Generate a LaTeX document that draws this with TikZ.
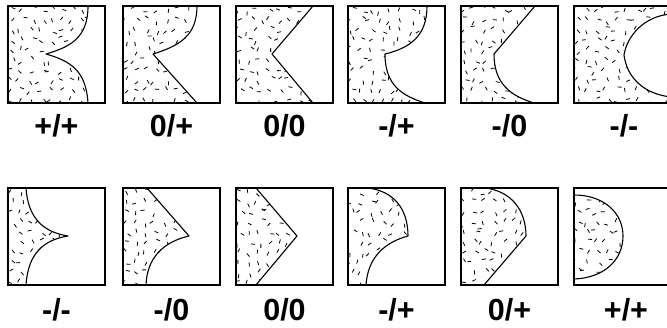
\documentclass[tikz,border=0pt]{standalone}
\usepackage{fontspec}
\newfontfamily\labfont{Liberation Sans}
\tikzset{
  frame/.style={draw=black,line width=1.2pt},
  boundary/.style={draw=black,line width=1.1pt,line join=round},
  speck/.style={draw=black,line width=0.8pt},
  lab/.style={anchor=base,inner sep=0pt,font=\labfont\bfseries\fontsize{30.5}{34}\selectfont}
}
\newcommand\tile[3]{%
  \begin{scope}[shift={(#1,#2)},yscale=-1]
    \begin{scope}
      \clip (0,0) -- #3 -- (0,97) -- cycle;
      \foreach \i in {0,...,10}{\foreach \j in {0,...,10}{%
        \draw[speck] ({\i*10+3+rand*3.2},{\j*10+3+rand*3.2}) -- ++({rnd*180}:4);}}
    \end{scope}
    \draw[boundary] #3;
    \draw[frame] (0,0) rectangle (97,97);
  \end{scope}}
\begin{document}
\begin{tikzpicture}[x=1pt,y=1pt]
\useasboundingbox (0,0) rectangle (667,327);
\pgfmathsetseed{7}
% row 1
\tile{8}{321}{(80,0) .. controls (80,32) and (62,41) .. (38,48) .. controls (62,55) and (78,64) .. (80,97)}
\tile{123}{321}{(74,0) .. controls (74,30) and (56,40) .. (30,48) -- (74,97)}
\tile{236}{321}{(77,0) -- (36,48) -- (77,97)}
\tile{348}{321}{(79,0) .. controls (79,30) and (62,42) .. (37,48) .. controls (37,80) and (55,90) .. (77,97)}
\tile{461}{321}{(74,0) -- (33,48) .. controls (33,78) and (50,90) .. (73,97)}
\tile{574}{321}{(97,0) -- (97,8) .. controls (70,10) and (53,30) .. (50,49) .. controls (53,72) and (70,88) .. (97,91) -- (97,97)}
% row 2
\tile{8}{139}{(18,0) .. controls (20,30) and (35,44) .. (60,48) .. controls (35,52) and (20,66) .. (18,97)}
\tile{123}{139}{(24,0) -- (66,48) .. controls (40,54) and (24,70) .. (23,97)}
\tile{236}{139}{(20,0) -- (61,48) -- (20,97)}
\tile{348}{139}{(20,0) .. controls (45,3) and (60,20) .. (60,48) .. controls (38,54) and (20,68) .. (18,97)}
\tile{461}{139}{(24,0) .. controls (50,3) and (65,22) .. (65,48) -- (23,97)}
\tile{574}{139}{(0,7) .. controls (30,7) and (49,25) .. (49,48) .. controls (49,72) and (30,90) .. (0,91)}
% labels
\node[lab] (a1) at (56.5,190) {+/+};
\node[lab] (a2) at (171.5,190) {0/+};
\node[lab] (a3) at (284.5,190) {0/0};
\node[lab] (a4) at (396.5,190) {-/+};
\node[lab] (a5) at (509.5,190) {-/0};
\node[lab] (a6) at (624,190) {-/-};
\node[lab] (b1) at (56.5,7) {-/-};
\node[lab] (b2) at (171.5,7) {-/0};
\node[lab] (b3) at (284.5,7) {0/0};
\node[lab] (b4) at (396.5,7) {-/+};
\node[lab] (b5) at (509.5,7) {0/+};
\node[lab] (b6) at (626,7) {+/+};
\end{tikzpicture}
\end{document}
